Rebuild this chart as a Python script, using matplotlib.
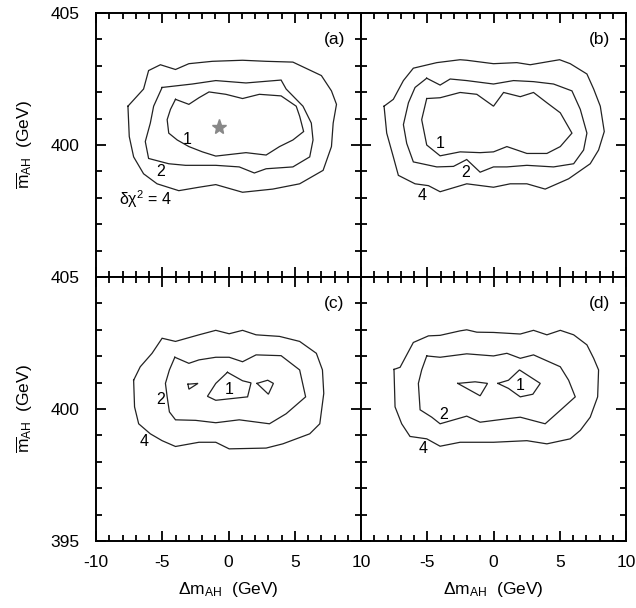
import matplotlib
matplotlib.use("Agg")
import matplotlib.pyplot as plt
import numpy as np
from matplotlib.ticker import MultipleLocator

plt.rcParams["font.family"] = ["Liberation Sans", "DejaVu Sans"]
plt.rcParams["mathtext.fontset"] = "custom"
plt.rcParams["mathtext.rm"] = "Liberation Sans"
plt.rcParams["mathtext.it"] = "Liberation Sans:italic"
plt.rcParams["axes.unicode_minus"] = False

# delta chi^2 contours in the (Delta m_AH, mbar_AH) plane, one list per level and panel
a_chi4 = [(-7.59, 401.47), (-6.41, 402.12), (-6.03, 402.82), (-5.14, 403.04), (-4.0, 402.86),
          (-2.99, 403.08), (-1.22, 403.17), (1.06, 403.21), (2.84, 403.17), (4.86, 403.14),
          (7.01, 402.63), (7.77, 402.05), (8.15, 401.54), (7.90, 400.83), (7.77, 399.94),
          (7.14, 399.04), (5.37, 398.53), (3.34, 398.33), (1.06, 398.21), (-0.96, 398.50),
          (-2.23, 398.40), (-3.75, 398.27), (-5.39, 398.53), (-6.41, 398.91), (-7.16, 399.55),
          (-7.49, 400.32)]
a_chi2 = [(-5.01, 402.18), (-2.73, 402.31), (-0.96, 402.44), (1.32, 402.35), (3.97, 402.46),
          (4.35, 402.12), (5.62, 401.47), (6.25, 400.83), (6.38, 400.19), (6.13, 399.55),
          (4.86, 399.17), (2.84, 399.10), (1.95, 398.94), (0.81, 399.17), (-0.96, 399.23),
          (-3.24, 399.23), (-4.51, 399.29), (-6.03, 399.49), (-6.28, 400.13), (-5.90, 400.83),
          (-5.65, 401.47)]
a_chi1 = [(-4.0, 401.73), (-2.99, 401.54), (-2.23, 401.79), (-1.47, 402.01), (-0.20, 401.92),
          (1.06, 401.76), (2.33, 401.92), (3.97, 401.86), (5.11, 401.47), (5.37, 401.09),
          (5.67, 400.51), (4.86, 400.19), (3.85, 399.94), (2.84, 399.62), (1.32, 399.71),
          (-0.96, 399.58), (-1.97, 399.74), (-2.99, 399.94), (-3.87, 400.19), (-4.51, 400.45),
          (-4.63, 400.96), (-4.38, 401.35)]
a_best = (-0.71, 400.68)

b_chi4 = [(-8.26, 401.47), (-7.56, 401.73), (-6.80, 402.44), (-6.05, 402.91), (-4.28, 403.12),
          (-2.52, 403.23), (-2.02, 403.21), (0.0, 403.08), (1.76, 403.12), (2.77, 403.04),
          (4.28, 403.17), (4.99, 403.23), (5.79, 403.08), (7.05, 402.69), (7.56, 402.12),
          (8.06, 401.47), (8.36, 400.51), (7.93, 399.81), (7.30, 399.29), (5.67, 398.72),
          (3.90, 398.33), (2.52, 398.53), (1.26, 398.53), (0.0, 398.40), (-2.02, 398.53),
          (-4.03, 398.23), (-4.91, 398.46), (-5.92, 398.53), (-7.18, 398.85), (-7.56, 399.55),
          (-8.06, 400.45)]
b_chi2 = [(-5.04, 402.53), (-4.03, 402.27), (-3.27, 402.50), (-2.02, 402.44), (0.0, 402.31),
          (1.51, 402.44), (3.02, 402.40), (4.53, 402.31), (5.92, 402.05), (6.55, 401.35),
          (7.05, 400.45), (6.80, 399.81), (6.05, 399.29), (4.53, 399.17), (2.52, 399.23),
          (1.01, 399.17), (0.0, 399.17), (-1.01, 398.97), (-2.02, 399.45), (-3.02, 399.19),
          (-4.28, 399.17), (-6.05, 399.36), (-6.55, 400.06), (-6.80, 400.77), (-6.42, 401.60),
          (-5.92, 402.18)]
b_chi1 = [(-5.04, 401.76), (-4.03, 401.79), (-2.52, 401.99), (-1.26, 401.92), (0.0, 401.47),
          (0.76, 401.99), (2.02, 401.83), (3.02, 401.99), (4.03, 401.60), (5.04, 401.22),
          (5.92, 400.45), (5.04, 399.94), (4.03, 399.68), (2.52, 399.68), (1.01, 399.94),
          (0.0, 399.74), (-1.01, 399.71), (-2.52, 399.74), (-4.03, 399.59), (-5.04, 400.0),
          (-5.42, 400.96)]

c_chi4 = [(-7.16, 401.09), (-6.66, 401.60), (-5.77, 402.11), (-5.01, 402.68), (-4.0, 402.56),
          (-2.23, 402.81), (-0.96, 402.98), (0.05, 402.85), (1.06, 402.98), (2.08, 402.81),
          (3.85, 402.75), (5.37, 402.56), (6.63, 402.11), (7.09, 401.48), (7.19, 400.59),
          (6.89, 399.44), (6.13, 399.06), (4.10, 398.68), (2.84, 398.52), (0.05, 398.49),
          (-0.96, 398.74), (-2.23, 398.74), (-4.0, 398.58), (-5.01, 398.80), (-5.90, 399.06),
          (-6.78, 399.44), (-7.09, 400.08)]
c_chi2 = [(-4.05, 401.96), (-2.99, 401.73), (-2.23, 401.86), (-0.96, 401.96), (0.05, 401.96),
          (1.06, 401.79), (2.08, 402.05), (3.97, 402.02), (5.37, 401.48), (5.82, 400.46),
          (4.35, 399.82), (3.09, 399.44), (0.81, 399.59), (-0.96, 399.48), (-2.48, 399.57),
          (-4.0, 399.59), (-4.46, 399.89), (-4.63, 400.46), (-4.76, 400.97), (-4.46, 401.48)]
c_chi1 = [(-0.08, 401.39), (1.06, 401.07), (1.70, 400.99), (1.44, 400.46), (-0.96, 400.33),
          (-1.59, 400.48), (-0.96, 400.97)]
c_chi1_left = [(-3.06, 400.94), (-2.30, 400.97), (-2.99, 400.75)]
c_chi1_right = [(2.15, 400.97), (2.96, 401.09), (3.39, 400.97), (3.01, 400.56)]

d_chi4 = [(-7.51, 401.50), (-7.05, 401.58), (-6.05, 402.52), (-4.91, 402.77), (-4.03, 402.79),
          (-2.52, 402.96), (-2.02, 403.00), (-1.26, 402.91), (0.0, 402.90), (2.02, 402.84),
          (3.02, 402.98), (4.03, 402.81), (5.04, 402.98), (6.05, 402.81), (7.05, 402.43),
          (7.56, 401.92), (7.93, 401.48), (7.86, 400.46), (7.30, 399.69), (6.55, 399.19),
          (5.79, 398.87), (4.03, 398.68), (2.52, 398.80), (0.0, 398.74), (-1.76, 398.74),
          (-2.52, 398.74), (-4.03, 398.59), (-5.04, 398.87), (-6.30, 398.96), (-6.93, 399.44),
          (-7.43, 400.08)]
d_chi2 = [(-5.04, 402.01), (-4.03, 401.96), (-2.02, 402.09), (0.0, 402.01), (1.01, 402.11),
          (2.02, 401.92), (3.02, 402.05), (5.04, 401.60), (5.67, 401.09), (6.17, 400.46),
          (5.04, 399.95), (3.90, 399.44), (2.02, 399.69), (1.01, 399.63), (-1.01, 399.50),
          (-2.02, 399.73), (-4.03, 399.44), (-4.66, 399.69), (-5.54, 399.97), (-5.67, 400.97),
          (-5.42, 401.48)]
d_chi1 = [(0.33, 400.97), (1.13, 401.09), (1.96, 401.48), (3.53, 400.97), (2.97, 400.56),
          (2.02, 400.46), (1.13, 400.78)]
d_chi1_left = [(-2.70, 400.97), (-1.39, 401.03), (-0.45, 400.97), (-1.01, 400.50)]

panel_tags = ["(a)", "(b)", "(c)", "(d)"]
x_ticks = [-10, -5, 0, 5, 10]
y_ticks = [395, 400, 405]

LW = 0.9
LC = "#222222"
FS = 12.5
LFS = 11.5


def draw_loop(ax, pts):
    xy = np.array(pts + pts[:1])
    ax.plot(xy[:, 0], xy[:, 1], color=LC, lw=LW, solid_joinstyle="miter")


fig = plt.figure(figsize=(6.36, 6.08), dpi=100)
W, H = 636.0, 608.0
lefts = [96 / W, 361 / W]
bottoms = [1 - 277 / H, 1 - 541 / H]
pw, ph = 265 / W, 264 / H

axes = {}
for r in range(2):
    for c in range(2):
        ax = fig.add_axes([lefts[c], bottoms[r], pw, ph])
        axes[(r, c)] = ax
        ax.set_xlim(-10, 10)
        ax.set_ylim(395, 405)
        ax.xaxis.set_major_locator(MultipleLocator(5))
        ax.xaxis.set_minor_locator(MultipleLocator(1))
        ax.yaxis.set_major_locator(MultipleLocator(5))
        ax.yaxis.set_minor_locator(MultipleLocator(1))
        ax.tick_params(which="both", direction="in", top=True, right=True,
                       labelsize=FS, width=1.3)
        ax.tick_params(axis="x", which="both", pad=10)
        ax.tick_params(axis="y", which="both", pad=12)
        ax.tick_params(which="major", length=7)
        ax.tick_params(which="minor", length=4.5)
        for s in ax.spines.values():
            s.set_linewidth(1.4)
        ax.text(0.9, 0.9, panel_tags[2 * r + c], transform=ax.transAxes,
                ha="center", va="center", fontsize=FS)
        # tick labels only on the outer edges
        if r == 0:
            ax.set_xticklabels([])
        else:
            ax.set_xticks(x_ticks)
            ax.set_xticklabels([str(v) if (c == 0 or v != -10) else "" for v in x_ticks])
            ax.set_xlabel(r"$\Delta$m$_{\mathrm{AH}}$  (GeV)", fontsize=FS, labelpad=7)
        if c == 1:
            ax.set_yticklabels([])
        else:
            ax.set_yticks(y_ticks)
            ax.set_yticklabels([str(v) if (r == 1 or v != 395) else "" for v in y_ticks])
            ax.set_ylabel(r"$\overline{\mathrm{m}}_{\mathrm{AH}}$  (GeV)", fontsize=FS, labelpad=11)

# (a)
ax = axes[(0, 0)]
for loop in (a_chi4, a_chi2, a_chi1):
    draw_loop(ax, loop)
ax.plot(*a_best, marker="*", color="#888888", markersize=11, mec="#888888")
ax.text(-3.1, 400.22, "1", ha="center", va="center", fontsize=LFS)
ax.text(-5.1, 399.0, "2", ha="center", va="center", fontsize=LFS)
ax.text(-8.3, 397.95, "δχ$^{2}$ = 4", ha="left", va="center", fontsize=LFS)

# (b)
ax = axes[(0, 1)]
for loop in (b_chi4, b_chi2, b_chi1):
    draw_loop(ax, loop)
ax.text(-4.0, 400.06, "1", ha="center", va="center", fontsize=LFS)
ax.text(-2.1, 398.97, "2", ha="center", va="center", fontsize=LFS)
ax.text(-5.4, 398.10, "4", ha="center", va="center", fontsize=LFS)

# (c)
ax = axes[(1, 0)]
for loop in (c_chi4, c_chi2, c_chi1, c_chi1_left, c_chi1_right):
    draw_loop(ax, loop)
ax.text(0.05, 400.74, "1", ha="center", va="center", fontsize=LFS)
ax.text(-5.1, 400.36, "2", ha="center", va="center", fontsize=LFS)
ax.text(-6.4, 398.77, "4", ha="center", va="center", fontsize=LFS)

# (d)
ax = axes[(1, 1)]
for loop in (d_chi4, d_chi2, d_chi1, d_chi1_left):
    draw_loop(ax, loop)
ax.text(2.0, 400.90, "1", ha="center", va="center", fontsize=LFS)
ax.text(-3.8, 399.80, "2", ha="center", va="center", fontsize=LFS)
ax.text(-5.3, 398.52, "4", ha="center", va="center", fontsize=LFS)

fig.savefig("out.png", dpi=100)
